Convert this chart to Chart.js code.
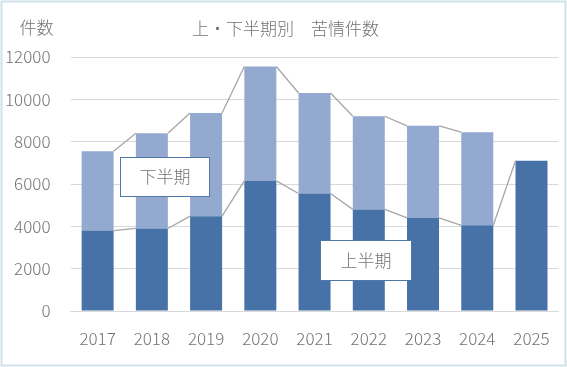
<!DOCTYPE html>
<html><head><meta charset="utf-8">
<script src="https://cdn.jsdelivr.net/npm/chart.js@4.4.0/dist/chart.umd.min.js"></script>
<style>html,body{margin:0;padding:0;background:#fff;}#wrap{width:567px;height:367px;position:relative;}</style>
</head><body><div id="wrap"><canvas id="c" width="567" height="367"></canvas></div>
<script>
const categories = ['2017','2018','2019','2020','2021','2022','2023','2024','2025'];
const firstHalf = [3800, 3900, 4480, 6150, 5550, 4800, 4400, 4050, 7100];
const secondHalf = [3750, 4500, 4870, 5400, 4750, 4400, 4350, 4400, null];
const yTicks = [0, 2000, 4000, 6000, 8000, 10000, 12000];
const titleText = '上・下半期別　苦情件数';
const yTitle = '件数';
const labelFirst = '上半期';
const labelSecond = '下半期';

const FONT = "'Noto Sans CJK JP', 'Noto Sans', sans-serif";
const TXT = '#737373';

const extras = {
  id: 'extras',
  afterDatasetsDraw(chart) {
    const ctx = chart.ctx;
    ctx.save();
    ctx.strokeStyle = '#a6a6a6';
    ctx.lineWidth = 1.3;
    chart.data.datasets.forEach((ds, di) => {
      const meta = chart.getDatasetMeta(di);
      for (let i = 0; i < meta.data.length - 1; i++) {
        if (ds.data[i] == null || ds.data[i + 1] == null) continue;
        const a = meta.data[i], b = meta.data[i + 1];
        ctx.beginPath();
        ctx.moveTo(a.x + a.width / 2, a.y);
        ctx.lineTo(b.x - b.width / 2, b.y);
        ctx.stroke();
      }
    });
    const box = (x1, y1, x2, y2, t) => {
      ctx.fillStyle = '#fff';
      ctx.fillRect(x1, y1, x2 - x1, y2 - y1);
      ctx.strokeStyle = '#4f78a8';
      ctx.lineWidth = 1;
      ctx.strokeRect(x1 + 0.5, y1 + 0.5, x2 - x1 - 1, y2 - y1 - 1);
      ctx.fillStyle = TXT;
      ctx.font = '300 17px ' + FONT;
      ctx.textAlign = 'center';
      ctx.textBaseline = 'middle';
      ctx.fillText(t, (x1 + x2) / 2, (y1 + y2) / 2);
    };
    box(120, 157, 210, 197, labelSecond);
    box(320, 240, 412, 281, labelFirst);
    ctx.restore();
  },
  afterDraw(chart) {
    const ctx = chart.ctx;
    ctx.save();
    ctx.fillStyle = TXT;
    ctx.font = '300 17px ' + FONT;
    ctx.textAlign = 'center';
    ctx.textBaseline = 'middle';
    ctx.fillText(titleText, 285.5, 29);
    ctx.fillText(yTitle, 36.5, 28);
    ctx.strokeStyle = '#cfe1eb';
    ctx.lineWidth = 2;
    ctx.strokeRect(1.5, 1.5, 564, 364);
    ctx.restore();
  }
};

new Chart(document.getElementById('c'), {
  type: 'bar',
  data: {
    labels: categories,
    datasets: [
      { label: labelFirst, data: firstHalf, backgroundColor: '#4672a8', barPercentage: 0.59, categoryPercentage: 1 },
      { label: labelSecond, data: secondHalf, backgroundColor: '#94a9d0', barPercentage: 0.59, categoryPercentage: 1 }
    ]
  },
  options: {
    responsive: false,
    animation: false,
    devicePixelRatio: 1,
    layout: { padding: { top: 57, left: 0, right: 5.5, bottom: 0 } },
    plugins: { legend: { display: false }, title: { display: false }, tooltip: { enabled: false } },
    scales: {
      x: {
        stacked: true,
        grid: { display: false, drawTicks: false },
        border: { color: '#d9d9d9', width: 1 },
        ticks: { color: TXT, font: { family: FONT, size: 17, weight: '300' }, padding: 17, maxRotation: 0 },
        afterFit(s) { s.height = 56; }
      },
      y: {
        stacked: true,
        min: 0, max: 12000,
        afterBuildTicks(s) { s.ticks = yTicks.map(v => ({ value: v })); },
        grid: { color: '#d9d9d9', drawTicks: false },
        border: { display: false },
        ticks: { color: TXT, font: { family: FONT, size: 17, weight: '300' }, padding: 20, callback: v => String(v) },
        afterFit(s) { s.width = 70.5; }
      }
    }
  },
  plugins: [extras]
});
</script></body></html>
